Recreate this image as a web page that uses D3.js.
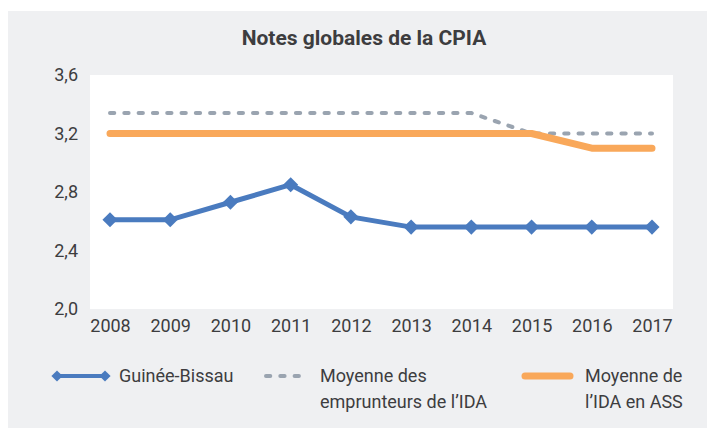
<!DOCTYPE html>
<html>
<head>
<meta charset="utf-8">
<script src="https://cdn.jsdelivr.net/npm/d3@7"></script>
<style>
  body { margin: 0; background: #fff; }
  text { font-family: "Roboto", sans-serif; fill: #3d3d3f; }
</style>
</head>
<body>
<svg id="chart" width="707" height="430"></svg>
<script>
// data
var years = ["2008","2009","2010","2011","2012","2013","2014","2015","2016","2017"]
var guinee = [2.61, 2.61, 2.73, 2.85, 2.63, 2.56, 2.56, 2.56, 2.56, 2.56]
var idaBorrowers = [3.34, 3.34, 3.34, 3.34, 3.34, 3.34, 3.34, 3.2, 3.2, 3.2]
var idaSSA = [3.2, 3.2, 3.2, 3.2, 3.2, 3.2, 3.2, 3.2, 3.1, 3.1]
var yTicks = [2.0, 2.4, 2.8, 3.2, 3.6]

var svg = d3.select("#chart")

// gray panel + white plot area
svg.append("rect").attr("x", 8).attr("y", 11).attr("width", 699).attr("height", 417).attr("fill", "#eff0f2")
svg.append("rect").attr("x", 90).attr("y", 75).attr("width", 583).attr("height", 234).attr("fill", "#fff")

svg.append("text")
    .attr("x", 364).attr("y", 45)
    .attr("text-anchor", "middle")
    .style("font-size", "21px").style("font-weight", "bold")
    .text("Notes globales de la CPIA")

var x = d3.scalePoint().domain(years).range([110, 652])
var y = d3.scaleLinear().domain([2.0, 3.6]).range([309, 75])

// axes (labels only)
var yAxis = svg.append("g").attr("transform", "translate(90,0)")
    .call(d3.axisLeft(y).tickValues(yTicks).tickSize(0).tickPadding(12)
        .tickFormat(function(d) { return d3.format(".1f")(d).replace(".", ",") }))
yAxis.select(".domain").remove()
yAxis.selectAll("text").style("font-size", "18px").attr("fill", "#3d3d3f")

var xAxis = svg.append("g").attr("transform", "translate(0,309)")
    .call(d3.axisBottom(x).tickSize(0).tickPadding(10))
xAxis.select(".domain").remove()
xAxis.selectAll("text").style("font-size", "18px").attr("fill", "#3d3d3f")

var line = d3.line()
    .x(function(d, i) { return x(years[i]) })
    .y(function(d) { return y(d) })

svg.append("path").attr("d", line(idaBorrowers))
    .attr("fill", "none").attr("stroke", "#9aa4b0").attr("stroke-width", 4)
    .attr("stroke-linecap", "round").attr("stroke-dasharray", "4.3,10")

svg.append("path").attr("d", line(idaSSA))
    .attr("fill", "none").attr("stroke", "#f9a85a").attr("stroke-width", 7)
    .attr("stroke-linecap", "round").attr("stroke-linejoin", "round")

svg.append("path").attr("d", line(guinee))
    .attr("fill", "none").attr("stroke", "#4a7bbf").attr("stroke-width", 5)

var diamond = d3.symbol().type(d3.symbolDiamond2).size(145)
svg.selectAll(".pt").data(guinee).enter().append("path")
    .attr("class", "pt")
    .attr("d", diamond)
    .attr("transform", function(d, i) { return "translate(" + x(years[i]) + "," + y(d) + ")" })
    .attr("fill", "#4a7bbf")

// legend
var lg = svg.append("g")
lg.append("line").attr("x1", 57).attr("x2", 105).attr("y1", 376).attr("y2", 376)
    .attr("stroke", "#4a7bbf").attr("stroke-width", 4)
lg.selectAll(".lpt").data([57, 105]).enter().append("path")
    .attr("d", d3.symbol().type(d3.symbolDiamond2).size(80))
    .attr("transform", function(d) { return "translate(" + d + ",376)" })
    .attr("fill", "#4a7bbf")
lg.append("line").attr("x1", 266).attr("x2", 302).attr("y1", 376).attr("y2", 376)
    .attr("stroke", "#9aa4b0").attr("stroke-width", 4)
    .attr("stroke-linecap", "round").attr("stroke-dasharray", "4.3,10")
lg.append("line").attr("x1", 525).attr("x2", 570).attr("y1", 376).attr("y2", 376)
    .attr("stroke", "#f9a85a").attr("stroke-width", 7).attr("stroke-linecap", "round")

var legendText = [
    { x: 119, lines: ["Guinée-Bissau"] },
    { x: 320, lines: ["Moyenne des", "emprunteurs de l\u2019IDA"] },
    { x: 585, lines: ["Moyenne de", "l\u2019IDA en ASS"] }
]
legendText.forEach(function(t) {
    var tx = lg.append("text").attr("x", t.x).attr("y", 382).style("font-size", "18px")
    t.lines.forEach(function(s, i) {
        tx.append("tspan").attr("x", t.x).attr("dy", i == 0 ? 0 : 26).text(s)
    })
})
</script>
</body>
</html>
